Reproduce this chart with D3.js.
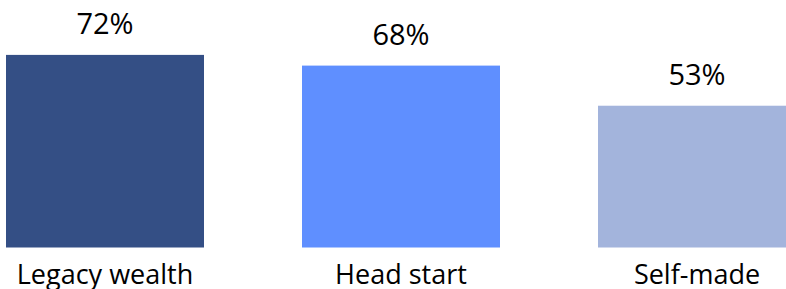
<!DOCTYPE html>
<html>
<head>
  <meta charset="utf-8">
  <script src="https://d3js.org/d3.v7.min.js"></script>
  <style type="text/css">
    body { margin: 0; background: #fff; overflow: hidden; }
    .label { font-family: "Open Sans", sans-serif; fill: #000; }
    .value { font-size: 29px; }
    .cat { font-size: 27px; }
  </style>
</head>
<body>
  <script type="text/javascript">
    // Data
    var categories = ['Legacy wealth', 'Head start', 'Self-made'];
    var values = [72, 68, 53];
    var barColors = ['#344f85', '#5f8fff', '#a3b4dc'];

    var width = 786,
      height = 289,
      baseline = 247.5,
      labelGap = 21;

    var svg = d3.select('body')
      .append('svg')
      .attr('width', width)
      .attr('height', height)
      .style('display', 'block');

    // bars are 198px wide, every 296px; the last one runs past the edge
    var x = d3.scaleBand()
      .domain(categories)
      .range([6, 796])
      .paddingInner(98 / 296)
      .paddingOuter(0);

    var y = d3.scaleLinear()
      .domain([0, 100])
      .range([baseline, baseline - 267.5]);

    var data = categories.map(function(c, i) {
      return { name: c, value: values[i], color: barColors[i] };
    });

    svg.selectAll('rect.bar')
      .data(data)
      .enter().append('rect')
      .attr('class', 'bar')
      .attr('x', function(d) { return x(d.name); })
      .attr('y', function(d) { return y(d.value); })
      .attr('width', x.bandwidth())
      .attr('height', function(d) { return y(0) - y(d.value); })
      .attr('fill', function(d) { return d.color; });

    // value labels
    svg.selectAll('text.value')
      .data(data)
      .enter().append('text')
      .attr('class', 'label value')
      .attr('text-anchor', 'middle')
      .attr('x', function(d) { return x(d.name) + x.bandwidth() / 2; })
      .attr('y', function(d) { return y(d.value) - labelGap; })
      .text(function(d) { return d.value + '%'; });

    // category labels
    svg.selectAll('text.cat')
      .data(data)
      .enter().append('text')
      .attr('class', 'label cat')
      .attr('text-anchor', 'middle')
      .attr('x', function(d) { return x(d.name) + x.bandwidth() / 2; })
      .attr('y', 283.5)
      .text(function(d) { return d.name; });
  </script>
</body>
</html>
